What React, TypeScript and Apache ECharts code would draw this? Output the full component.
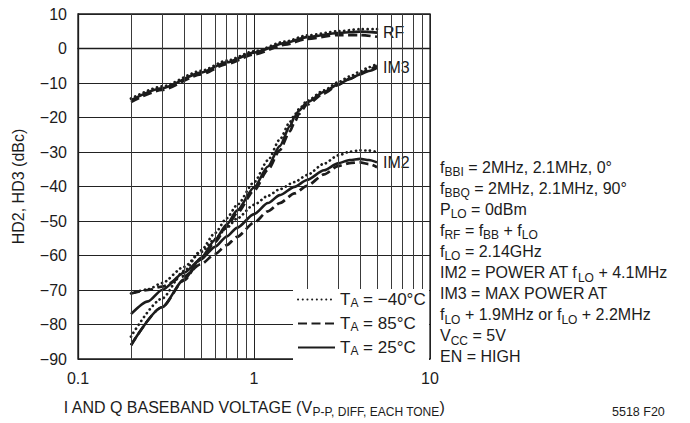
import React, { useEffect, useRef } from "react";
import * as echarts from "echarts";

const FONT = "'Liberation Sans', Arial, Helvetica, sans-serif";
const INK = "#1c1c1c";

// Baseband voltage sample points (V p-p)
const xRF = [0.2, 0.3, 0.5, 0.7, 1, 1.5, 2, 3, 4, 5];
const xIM3 = [0.2, 0.3, 0.4, 0.5, 0.6, 0.7, 0.8, 1, 1.2, 1.4, 1.6, 1.7, 1.8, 2, 2.5, 3, 3.5, 4, 4.5, 5];
const xIM2 = [0.2, 0.25, 0.3, 0.4, 0.5, 0.6, 0.7, 0.8, 1, 1.2, 1.4, 1.7, 2, 2.5, 3, 3.5, 4, 4.5, 5];

// RF output (dBm)
const rfCold = [-14.5, -11, -6.5, -3.5, -0.8, 2, 3.8, 5, 5.6, 5.6];
const rfHot = [-15.5, -12, -7.5, -4.5, -1.7, 1.1, 2.8, 3.9, 3.9, 3.4];
const rfRoom = [-15, -11.5, -7, -4, -1.2, 1.6, 3.3, 4.5, 4.9, 4.6];

// IM3 (dBc)
const im3Cold = [-83.5, -72.5, -64.5, -58.5, -53.5, -49.2, -45.4, -38.8, -32.4, -26.4, -21.3, -19.2, -17.6, -15.2, -12.1, -9.8, -8.1, -6.7, -5.4, -4.4];
const im3Hot = [-86, -75, -67.2, -61.1, -56.1, -51.7, -47.8, -41.2, -35.2, -29.5, -24, -21.4, -19, -16.3, -13, -10.6, -8.8, -7.3, -6.1, -5];
const im3Room = [-86, -75, -67, -60.7, -55.5, -51, -47, -40.3, -34.2, -28.3, -22.5, -19.8, -18, -15.6, -12.6, -10.4, -8.8, -7.5, -6.5, -5.6];

// IM2 (dBc)
const im2Cold = [-71, -69.8, -68, -63.3, -59, -55.2, -52, -49.3, -45.3, -42.7, -40.8, -38.7, -36.7, -33.4, -31, -29.9, -29.5, -29.6, -30];
const im2Hot = [-71, -70, -69, -66, -62.5, -59.6, -57, -54.6, -50.5, -47.2, -44.8, -42, -39.8, -36.5, -34.1, -33.2, -33, -33.5, -34.4];
const im2Room = [-77, -73.3, -70, -65, -61, -57.5, -54.5, -52, -48, -44.8, -42.5, -40.1, -38.1, -35.3, -33.3, -32.3, -32, -32.3, -33];

const tempNames = ["−40°C", "85°C", "25°C"];
const minorGridX = [0.2, 0.3, 0.4, 0.5, 0.6, 0.7, 0.8, 0.9, 2, 3, 4, 5, 6, 7, 8, 9];

const zip = (xs: number[], ys: number[]) => xs.map((x, i) => [x, ys[i]]);

const styles: Record<string, any> = {
  "−40°C": { type: [0.1, 4.6], cap: "round", width: 2.7 },
  "85°C": { type: [9, 4.5], cap: "butt", width: 2.7 },
  "25°C": { type: "solid", cap: "butt", width: 2.6 },
};

const textRich = {
  n: { fontSize: 16, lineHeight: 22, fontFamily: FONT, color: INK },
  s: { fontSize: 12, lineHeight: 12, padding: [10, 0, 0, 0], fontFamily: FONT, color: INK },
};

const notes: string[] = [
  "{n|f}{s|BBI}{n| = 2MHz, 2.1MHz, 0°}",
  "{n|f}{s|BBQ}{n| = 2MHz, 2.1MHz, 90°}",
  "{n|P}{s|LO}{n| = 0dBm}",
  "{n|f}{s|RF}{n| = f}{s|BB}{n| + f}{s|LO}",
  "{n|f}{s|LO}{n| = 2.14GHz}",
  "{n|IM2 = POWER AT f}{s|LO}{n| + 4.1MHz}",
  "{n|IM3 = MAX POWER AT}",
  "{n|f}{s|LO}{n| + 1.9MHz or f}{s|LO}{n| + 2.2MHz}",
  "{n|V}{s|CC}{n| = 5V}",
  "{n|EN = HIGH}",
];

function curve(name: string, xs: number[], ys: number[], endText?: string) {
  const s: any = {
    name,
    type: "line",
    data: zip(xs, ys),
    symbol: "none",
    smooth: 0.25,
    smoothMonotone: "x",
    z: name === "25°C" ? 4 : 3,
    lineStyle: { color: INK, ...styles[name] },
    itemStyle: { color: INK },
  };
  if (endText) {
    s.endLabel = {
      show: true,
      formatter: endText,
      fontFamily: FONT,
      fontSize: 16,
      color: INK,
      backgroundColor: "#fff",
      padding: [1, 2, 0, 2],
      distance: 4,
    };
  }
  return s;
}

export default function App() {
  const ref = useRef<HTMLDivElement>(null);
  useEffect(() => {
    if (!ref.current) return;
    const chart = echarts.init(ref.current, null, { renderer: "svg" });
    const option: any = {
      animation: false,
      backgroundColor: "#fff",
      textStyle: { fontFamily: FONT },
      grid: { left: 78, top: 14, right: 260, bottom: 58, show: true, borderColor: INK, borderWidth: 1.3, backgroundColor: "transparent" },
      xAxis: {
        type: "log",
        logBase: 10,
        min: 0.1,
        max: 10,
        axisLine: { show: true, lineStyle: { color: INK, width: 1.3 } },
        axisTick: { show: false },
        splitLine: { show: true, lineStyle: { color: "#222", width: 1 } },
        axisLabel: { formatter: (v: number) => String(Math.round(v * 10) / 10), fontSize: 16, color: INK, margin: 11, fontFamily: FONT },
        name: "{n|I AND Q BASEBAND VOLTAGE (V}{s|P-P, DIFF, EACH TONE}{n|)}",
        nameLocation: "middle",
        nameGap: 37,
        nameTextStyle: { rich: textRich },
      },
      yAxis: {
        type: "value",
        min: -90,
        max: 10,
        interval: 10,
        axisLine: { show: true, lineStyle: { color: INK, width: 1.3 } },
        axisTick: { show: false },
        splitLine: { show: true, lineStyle: { color: "#222", width: 1 } },
        axisLabel: {
          formatter: (v: number) => (v < 0 ? "−" + Math.abs(v) : String(v)),
          fontSize: 16,
          color: INK,
          margin: 11,
          fontFamily: FONT,
        },
        name: "HD2, HD3 (dBc)",
        nameLocation: "middle",
        nameGap: 52,
        nameTextStyle: { fontSize: 16, color: INK, fontFamily: FONT },
      },
      legend: {
        data: tempNames,
        orient: "vertical",
        left: 297,
        top: 290,
        z: 10,
        itemWidth: 37,
        itemHeight: 16,
        itemGap: 5,
        padding: 0,
        backgroundColor: "#fff",
        itemStyle: { color: "rgba(0,0,0,0)", borderWidth: 0, opacity: 0 },
        formatter: (name: string) => `{n|T}{s|A}{n| = ${name}}`,
        textStyle: {
          rich: {
            n: { fontSize: 17, lineHeight: 20, fontFamily: FONT, color: INK },
            s: { fontSize: 12, lineHeight: 12, padding: [7, 0, 0, 0], fontFamily: FONT, color: INK },
          },
        },
      },
      series: [
        {
          name: "grid",
          type: "line",
          data: [],
          z: 1,
          silent: true,
          markLine: {
            silent: true,
            symbol: ["none", "none"],
            label: { show: false },
            lineStyle: { color: "#3a3a3a", width: 1, type: "solid" },
            data: minorGridX.map((v) => ({ xAxis: v })),
          },
        },
        curve("−40°C", xRF, rfCold),
        curve("85°C", xRF, rfHot),
        curve("25°C", xRF, rfRoom, "RF"),
        curve("−40°C", xIM3, im3Cold),
        curve("85°C", xIM3, im3Hot),
        curve("25°C", xIM3, im3Room, "IM3"),
        curve("−40°C", xIM2, im2Cold),
        curve("85°C", xIM2, im2Hot),
        curve("25°C", xIM2, im2Room, "IM2"),
      ],
      graphic: [
        {
          type: "rect",
          z: 8,
          shape: { x: 293, y: 289, width: 136, height: 75 },
          style: { fill: "#fff" },
          silent: true,
        },
        ...notes.map((t, i) => ({
          type: "text",
          x: 440,
          y: 156 + i * 21.1,
          style: { text: t, rich: textRich, fill: INK },
        })),
        {
          type: "text",
          x: 612,
          y: 405,
          style: { text: "5518 F20", fontSize: 12.5, fontFamily: "'Liberation Sans Narrow', " + FONT, fill: INK },
        },
      ],
    };
    chart.setOption(option);
    return () => chart.dispose();
  }, []);
  return <div ref={ref} style={{ position: "fixed", left: 0, top: 0, width: 690, height: 423, background: "#fff" }} />;
}
